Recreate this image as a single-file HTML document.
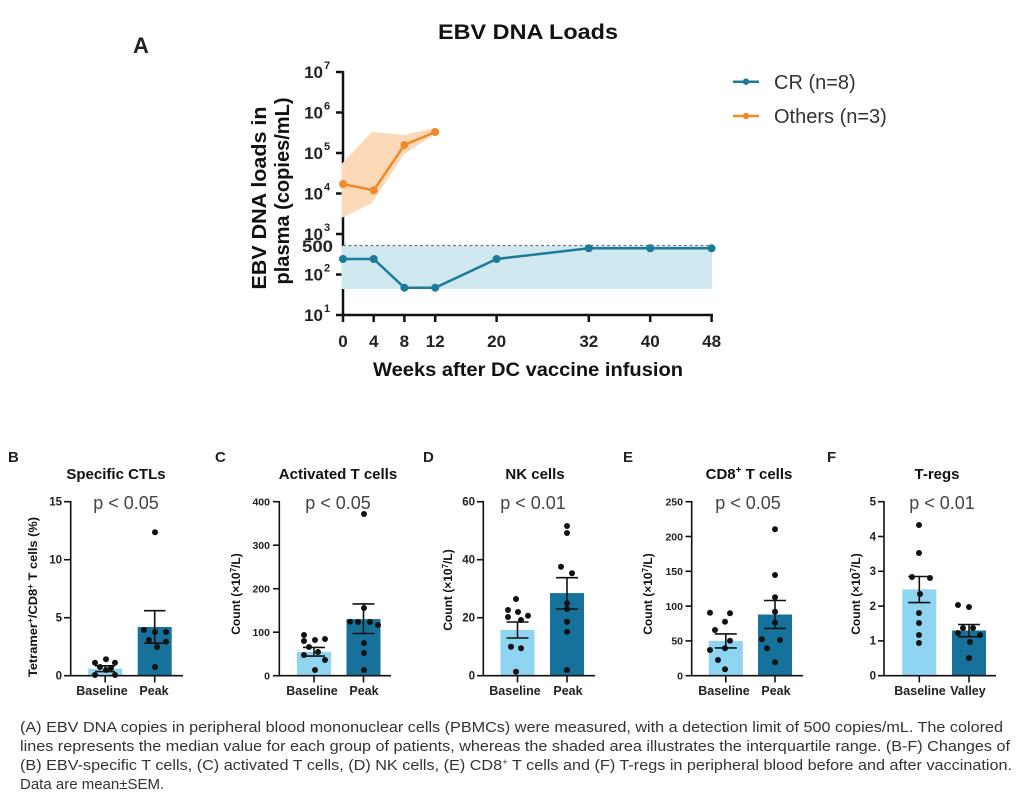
<!DOCTYPE html>
<html><head><meta charset="utf-8"><style>
html,body{margin:0;padding:0;background:#fff;}
svg{display:block;}
text{font-family:"Liberation Sans",Arial,sans-serif;}
</style></head><body>
<svg width="1027" height="801" viewBox="0 0 1027 801" xmlns="http://www.w3.org/2000/svg">
<rect width="1027" height="801" fill="#fff"/>

<!-- ===== Panel A ===== -->
<text x="141" y="53" font-size="22" font-weight="bold" text-anchor="middle" fill="#222">A</text>
<text x="528" y="39" font-size="21" font-weight="bold" text-anchor="middle" fill="#111" textLength="180" lengthAdjust="spacingAndGlyphs">EBV DNA Loads</text>

<!-- axes -->
<g stroke="#111" stroke-width="2.5" fill="none">
<line x1="343" y1="71" x2="343" y2="316"/>
<line x1="342" y1="315" x2="713" y2="315"/>
<line x1="336" y1="72" x2="343" y2="72"/>
<line x1="336" y1="112.5" x2="343" y2="112.5"/>
<line x1="336" y1="153" x2="343" y2="153"/>
<line x1="336" y1="193.5" x2="343" y2="193.5"/>
<line x1="336" y1="234" x2="343" y2="234"/>
<line x1="336" y1="274.5" x2="343" y2="274.5"/>
<line x1="336" y1="315" x2="343" y2="315"/>
<line x1="343" y1="315" x2="343" y2="322"/>
<line x1="373.7" y1="315" x2="373.7" y2="322"/>
<line x1="404.4" y1="315" x2="404.4" y2="322"/>
<line x1="435.2" y1="315" x2="435.2" y2="322"/>
<line x1="496.6" y1="315" x2="496.6" y2="322"/>
<line x1="588.8" y1="315" x2="588.8" y2="322"/>
<line x1="650.2" y1="315" x2="650.2" y2="322"/>
<line x1="711.6" y1="315" x2="711.6" y2="322"/>
</g>

<!-- y tick labels -->
<g font-weight="bold" fill="#222">
<text x="323" y="78" font-size="17" text-anchor="end">10</text><text x="324" y="69" font-size="11">7</text>
<text x="323" y="118.5" font-size="17" text-anchor="end">10</text><text x="324" y="109.5" font-size="11">6</text>
<text x="323" y="159" font-size="17" text-anchor="end">10</text><text x="324" y="150" font-size="11">5</text>
<text x="323" y="199.5" font-size="17" text-anchor="end">10</text><text x="324" y="190.5" font-size="11">4</text>
<text x="323" y="240" font-size="17" text-anchor="end">10</text><text x="324" y="231" font-size="11">3</text>
<text x="333" y="252" font-size="17" text-anchor="end" textLength="31" lengthAdjust="spacingAndGlyphs">500</text>
<text x="323" y="280.5" font-size="17" text-anchor="end">10</text><text x="324" y="271.5" font-size="11">2</text>
<text x="323" y="321" font-size="17" text-anchor="end">10</text><text x="324" y="312" font-size="11">1</text>
</g>
<!-- x tick labels -->
<g font-weight="bold" fill="#222" font-size="17" text-anchor="middle">
<text x="343" y="347">0</text>
<text x="373.7" y="347">4</text>
<text x="404.4" y="347">8</text>
<text x="435.2" y="347">12</text>
<text x="496.6" y="347">20</text>
<text x="588.8" y="347">32</text>
<text x="650.2" y="347">40</text>
<text x="711.6" y="347">48</text>
</g>
<text x="528" y="376" font-size="19" font-weight="bold" text-anchor="middle" fill="#111" textLength="310" lengthAdjust="spacingAndGlyphs">Weeks after DC vaccine infusion</text>
<text transform="translate(266,198) rotate(-90)" text-anchor="middle" font-size="20" font-weight="bold" fill="#111" textLength="183" lengthAdjust="spacingAndGlyphs">EBV DNA loads in</text>
<text transform="translate(289,191) rotate(-90)" text-anchor="middle" font-size="20" font-weight="bold" fill="#111" textLength="187" lengthAdjust="spacingAndGlyphs">plasma (copies/mL)</text>

<!-- bands (cover axis line like reference) -->
<polygon points="341.5,164 372,132 404,135 435,128 435,134 404,154 372,203 341.5,218" fill="#fbd8b6"/>
<rect x="341.5" y="246" width="370.5" height="43" fill="#d0e8f0"/>
<line x1="343" y1="245.5" x2="712" y2="245.5" stroke="#777" stroke-width="1.3" stroke-dasharray="3,2.5"/>

<!-- orange line -->
<polyline points="343,184 373.7,190.3 404.4,145 435.2,132" fill="none" stroke="#ef8a2a" stroke-width="2.5"/>
<g fill="#ef8a2a">
<circle cx="343" cy="184" r="4"/><circle cx="373.7" cy="190.3" r="4"/><circle cx="404.4" cy="145" r="4"/><circle cx="435.2" cy="132" r="4"/>
</g>
<!-- blue line -->
<polyline points="343,259 373.7,259 404.4,287.7 435.2,287.7 496.6,259 588.8,248.3 650.2,248.3 711.6,248.3" fill="none" stroke="#1c7a9b" stroke-width="2.5"/>
<g fill="#1c7a9b">
<circle cx="343" cy="259" r="4"/><circle cx="373.7" cy="259" r="4"/><circle cx="404.4" cy="287.7" r="4"/><circle cx="435.2" cy="287.7" r="4"/><circle cx="496.6" cy="259" r="4"/><circle cx="588.8" cy="248.3" r="4"/><circle cx="650.2" cy="248.3" r="4"/><circle cx="711.6" cy="248.3" r="4"/>
</g>

<!-- legend -->
<line x1="733" y1="81.7" x2="759" y2="81.7" stroke="#1c7a9b" stroke-width="2.5"/>
<circle cx="746" cy="81.7" r="3.2" fill="#1c7a9b"/>
<text x="774" y="89" font-size="20" fill="#333">CR (n=8)</text>
<line x1="733" y1="116" x2="759" y2="116" stroke="#ef8a2a" stroke-width="2.5"/>
<circle cx="746" cy="116" r="3.2" fill="#ef8a2a"/>
<text x="774" y="123" font-size="20" fill="#333">Others (n=3)</text>

<!-- ===== Bar panels ===== -->
<g font-weight="bold" fill="#222">
<text x="8" y="462" font-size="15">B</text>
<text x="215" y="462" font-size="15">C</text>
<text x="423" y="462" font-size="15">D</text>
<text x="623" y="462" font-size="15">E</text>
<text x="827" y="462" font-size="15">F</text>
</g>
<g font-weight="bold" fill="#111" font-size="15" text-anchor="middle">
<text x="116" y="479">Specific CTLs</text>
<text x="338" y="479">Activated T cells</text>
<text x="535" y="479">NK cells</text>
<text x="749" y="479">CD8<tspan font-size="10" dy="-6">+</tspan><tspan dy="6"> T cells</tspan></text>
<text x="937" y="479">T-regs</text>
</g>
<g fill="#444" font-size="18" text-anchor="middle">
<text x="126" y="509">p &lt; 0.05</text>
<text x="338" y="509">p &lt; 0.05</text>
<text x="533" y="509">p &lt; 0.01</text>
<text x="748" y="509">p &lt; 0.05</text>
<text x="942" y="509">p &lt; 0.01</text>
</g>

<!-- y labels -->
<g font-weight="bold" fill="#111" font-size="12" text-anchor="middle">
<text transform="translate(37,597) rotate(-90)" textLength="160" lengthAdjust="spacingAndGlyphs">Tetramer<tspan font-size="8" dy="-4">+</tspan><tspan dy="4">/CD8</tspan><tspan font-size="8" dy="-4">+</tspan><tspan dy="4"> T cells (%)</tspan></text>
<text transform="translate(240,594) rotate(-90)">Count (×10<tspan font-size="8" dy="-4">7</tspan><tspan dy="4">/L)</tspan></text>
<text transform="translate(452,590) rotate(-90)">Count (×10<tspan font-size="8" dy="-4">7</tspan><tspan dy="4">/L)</tspan></text>
<text transform="translate(652,594) rotate(-90)">Count (×10<tspan font-size="8" dy="-4">7</tspan><tspan dy="4">/L)</tspan></text>
<text transform="translate(860,594) rotate(-90)">Count (×10<tspan font-size="8" dy="-4">7</tspan><tspan dy="4">/L)</tspan></text>
</g>

<!-- bars -->
<g>
<rect x="88.2" y="668.7" width="34" height="7" fill="#8fd5f2"/>
<rect x="137.7" y="627" width="34" height="48.7" fill="#17729b"/>
<rect x="297" y="651.8" width="34" height="23.9" fill="#8fd5f2"/>
<rect x="346.5" y="619.1" width="34" height="56.6" fill="#17729b"/>
<rect x="500.5" y="629.9" width="34" height="45.8" fill="#8fd5f2"/>
<rect x="550" y="593.1" width="34" height="82.6" fill="#17729b"/>
<rect x="708.8" y="640.9" width="34" height="34.8" fill="#8fd5f2"/>
<rect x="758" y="614.5" width="34" height="61.2" fill="#17729b"/>
<rect x="902.3" y="589.4" width="34" height="86.3" fill="#8fd5f2"/>
<rect x="952" y="630.5" width="34" height="45.2" fill="#17729b"/>
</g>

<!-- axes for bar panels -->
<g stroke="#111" stroke-width="1.6" fill="none">
<!-- B -->
<line x1="70.7" y1="501" x2="70.7" y2="676.5"/>
<line x1="70" y1="675.7" x2="183" y2="675.7"/>
<line x1="64" y1="501.7" x2="70.7" y2="501.7"/>
<line x1="64" y1="559.7" x2="70.7" y2="559.7"/>
<line x1="64" y1="617.7" x2="70.7" y2="617.7"/>
<line x1="64" y1="675.7" x2="70.7" y2="675.7"/>
<line x1="105.2" y1="675.7" x2="105.2" y2="682.5"/>
<line x1="154.7" y1="675.7" x2="154.7" y2="682.5"/>
<!-- C -->
<line x1="279.3" y1="501" x2="279.3" y2="676.5"/>
<line x1="278.5" y1="675.7" x2="391" y2="675.7"/>
<line x1="273" y1="501.7" x2="279.3" y2="501.7"/>
<line x1="273" y1="545.2" x2="279.3" y2="545.2"/>
<line x1="273" y1="588.7" x2="279.3" y2="588.7"/>
<line x1="273" y1="632.2" x2="279.3" y2="632.2"/>
<line x1="273" y1="675.7" x2="279.3" y2="675.7"/>
<line x1="314" y1="675.7" x2="314" y2="682.5"/>
<line x1="363.5" y1="675.7" x2="363.5" y2="682.5"/>
<!-- D -->
<line x1="483.3" y1="501" x2="483.3" y2="676.5"/>
<line x1="482.5" y1="675.7" x2="595" y2="675.7"/>
<line x1="477" y1="501.7" x2="483.3" y2="501.7"/>
<line x1="477" y1="559.7" x2="483.3" y2="559.7"/>
<line x1="477" y1="617.7" x2="483.3" y2="617.7"/>
<line x1="477" y1="675.7" x2="483.3" y2="675.7"/>
<line x1="517.5" y1="675.7" x2="517.5" y2="682.5"/>
<line x1="567" y1="675.7" x2="567" y2="682.5"/>
<!-- E -->
<line x1="691.7" y1="501" x2="691.7" y2="676.5"/>
<line x1="691" y1="675.7" x2="803" y2="675.7"/>
<line x1="685.5" y1="501.7" x2="691.7" y2="501.7"/>
<line x1="685.5" y1="536.5" x2="691.7" y2="536.5"/>
<line x1="685.5" y1="571.3" x2="691.7" y2="571.3"/>
<line x1="685.5" y1="606.1" x2="691.7" y2="606.1"/>
<line x1="685.5" y1="640.9" x2="691.7" y2="640.9"/>
<line x1="685.5" y1="675.7" x2="691.7" y2="675.7"/>
<line x1="725.8" y1="675.7" x2="725.8" y2="682.5"/>
<line x1="775" y1="675.7" x2="775" y2="682.5"/>
<!-- F -->
<line x1="884" y1="501" x2="884" y2="676.5"/>
<line x1="883.3" y1="675.7" x2="996" y2="675.7"/>
<line x1="878" y1="501.7" x2="884" y2="501.7"/>
<line x1="878" y1="536.5" x2="884" y2="536.5"/>
<line x1="878" y1="571.3" x2="884" y2="571.3"/>
<line x1="878" y1="606.1" x2="884" y2="606.1"/>
<line x1="878" y1="640.9" x2="884" y2="640.9"/>
<line x1="878" y1="675.7" x2="884" y2="675.7"/>
<line x1="919.3" y1="675.7" x2="919.3" y2="682.5"/>
<line x1="969" y1="675.7" x2="969" y2="682.5"/>
</g>

<!-- tick labels bar panels -->
<g font-weight="bold" fill="#222" font-size="11.5" text-anchor="end">
<text x="62" y="505.5">15</text><text x="62" y="563.5">10</text><text x="62" y="621.5">5</text><text x="62" y="679.5">0</text>
<text x="475" y="505.5">60</text><text x="475" y="563.5">40</text><text x="475" y="621.5">20</text><text x="475" y="679.5">0</text>
<text x="876" y="505.5">5</text><text x="876" y="540.3">4</text><text x="876" y="575.1">3</text><text x="876" y="609.9">2</text><text x="876" y="644.7">1</text><text x="876" y="679.5">0</text>
</g>
<g font-weight="bold" fill="#222" font-size="10.5" text-anchor="end">
<text x="270" y="505.5">400</text><text x="270" y="549">300</text><text x="270" y="592.5">200</text><text x="270" y="636">100</text><text x="270" y="679.5">0</text>
<text x="683" y="505.5">250</text><text x="683" y="540.3">200</text><text x="683" y="575.1">150</text><text x="683" y="609.9">100</text><text x="683" y="644.7">50</text><text x="683" y="679.5">0</text>
</g>

<!-- category labels -->
<g font-weight="bold" fill="#222" font-size="12.5" text-anchor="middle">
<text x="102" y="695">Baseline</text><text x="154" y="695">Peak</text>
<text x="312" y="695">Baseline</text><text x="364" y="695">Peak</text>
<text x="515" y="695">Baseline</text><text x="568" y="695">Peak</text>
<text x="724" y="695">Baseline</text><text x="776" y="695">Peak</text>
<text x="920" y="695">Baseline</text><text x="968" y="695">Valley</text>
</g>

<!-- dots -->
<g fill="#111">
<!-- B -->
<circle cx="95" cy="662.7" r="3"/><circle cx="106" cy="659.3" r="3"/><circle cx="115" cy="662.7" r="3"/><circle cx="106" cy="670" r="3"/><circle cx="95" cy="675" r="3"/><circle cx="115" cy="675" r="3"/><circle cx="100" cy="667" r="3"/><circle cx="111" cy="668" r="3"/>
<circle cx="155" cy="532.3" r="3"/><circle cx="144" cy="630" r="3"/><circle cx="155" cy="632" r="3"/><circle cx="166" cy="632" r="3"/><circle cx="149" cy="640" r="3"/><circle cx="166" cy="641.7" r="3"/><circle cx="157" cy="647" r="3"/><circle cx="155" cy="667" r="3"/>
<!-- C -->
<circle cx="304" cy="635" r="3"/><circle cx="304" cy="641" r="3"/><circle cx="315" cy="640" r="3"/><circle cx="325" cy="639" r="3"/><circle cx="309" cy="647" r="3"/><circle cx="304" cy="655" r="3"/><circle cx="318" cy="652" r="3"/><circle cx="325" cy="660" r="3"/><circle cx="315" cy="670" r="3"/>
<circle cx="364" cy="514" r="3"/><circle cx="364" cy="608" r="3"/><circle cx="350" cy="621.7" r="3"/><circle cx="358" cy="622" r="3"/><circle cx="370" cy="622" r="3"/><circle cx="378" cy="625" r="3"/><circle cx="364" cy="643" r="3"/><circle cx="364" cy="653" r="3"/><circle cx="364" cy="670" r="3"/>
<!-- D -->
<circle cx="516" cy="599" r="3"/><circle cx="508" cy="610" r="3"/><circle cx="518" cy="612" r="3"/><circle cx="528" cy="615.7" r="3"/><circle cx="508" cy="617" r="3"/><circle cx="521" cy="620" r="3"/><circle cx="511" cy="646.7" r="3"/><circle cx="521" cy="648.3" r="3"/><circle cx="516" cy="671.7" r="3"/>
<circle cx="567" cy="526" r="3"/><circle cx="567" cy="533" r="3"/><circle cx="561" cy="566.7" r="3"/><circle cx="572" cy="573.3" r="3"/><circle cx="567" cy="603.3" r="3"/><circle cx="567" cy="609" r="3"/><circle cx="567" cy="621.7" r="3"/><circle cx="567" cy="631.7" r="3"/><circle cx="567" cy="670" r="3"/>
<!-- E -->
<circle cx="710" cy="612.7" r="3"/><circle cx="730" cy="613.3" r="3"/><circle cx="725" cy="621.7" r="3"/><circle cx="715" cy="630" r="3"/><circle cx="730" cy="640.7" r="3"/><circle cx="725" cy="648.3" r="3"/><circle cx="710" cy="650" r="3"/><circle cx="718" cy="660" r="3"/><circle cx="725" cy="669.3" r="3"/>
<circle cx="775" cy="529.3" r="3"/><circle cx="775" cy="575" r="3"/><circle cx="775" cy="597.3" r="3"/><circle cx="775" cy="611.7" r="3"/><circle cx="775" cy="622.7" r="3"/><circle cx="762" cy="639.3" r="3"/><circle cx="780" cy="640" r="3"/><circle cx="767" cy="648.3" r="3"/><circle cx="775" cy="662.3" r="3"/>
<!-- F -->
<circle cx="919" cy="525" r="3"/><circle cx="919" cy="553" r="3"/><circle cx="912" cy="577" r="3"/><circle cx="930" cy="578" r="3"/><circle cx="920" cy="594" r="3"/><circle cx="919" cy="613" r="3"/><circle cx="919" cy="623" r="3"/><circle cx="919" cy="635" r="3"/><circle cx="919" cy="643" r="3"/>
<circle cx="958" cy="605" r="3"/><circle cx="969" cy="607" r="3"/><circle cx="963" cy="628" r="3"/><circle cx="973" cy="628" r="3"/><circle cx="980" cy="635" r="3"/><circle cx="958" cy="633" r="3"/><circle cx="970" cy="642" r="3"/><circle cx="969" cy="658" r="3"/>
</g>

<!-- error bars -->
<g stroke="#111" stroke-width="1.6" fill="none">
<path d="M105.2 671.6V665.8M95 671.6H115M95 665.8H115"/>
<path d="M154.7 643.2V610.7M144 643.2H165.5M144 610.7H165.5"/>
<path d="M314 656.1V647.4M303 656.1H325M303 647.4H325"/>
<path d="M363.5 633.5V603.9M352.5 633.5H374.5M352.5 603.9H374.5"/>
<path d="M517.5 638V622M506.5 638H528.5M506.5 622H528.5"/>
<path d="M567 609V577.7M556 609H578M556 577.7H578"/>
<path d="M725.8 647.9V633.9M714.8 647.9H736.8M714.8 633.9H736.8"/>
<path d="M775 628.4V600.5M764 628.4H786M764 600.5H786"/>
<path d="M919.3 602.6V576.5M908.3 602.6H930.3M908.3 576.5H930.3"/>
<path d="M969 636.7V624.5M958 636.7H980M958 624.5H980"/>
</g>

<!-- caption -->
<g fill="#333" font-size="15">
<text x="20" y="732" textLength="983" lengthAdjust="spacingAndGlyphs">(A) EBV DNA copies in peripheral blood mononuclear cells (PBMCs) were measured, with a detection limit of 500 copies/mL. The colored</text>
<text x="20" y="751" textLength="990" lengthAdjust="spacingAndGlyphs">lines represents the median value for each group of patients, whereas the shaded area illustrates the interquartile range. (B-F) Changes of</text>
<text x="20" y="770" textLength="992" lengthAdjust="spacingAndGlyphs">(B) EBV-specific T cells, (C) activated T cells, (D) NK cells, (E) CD8<tspan font-size="9" dy="-5">+</tspan><tspan dy="5"> T cells and (F) T-regs in peripheral blood before and after vaccination.</tspan></text>
<text x="20" y="789">Data are mean±SEM.</text>
</g>
</svg>
</body></html>
